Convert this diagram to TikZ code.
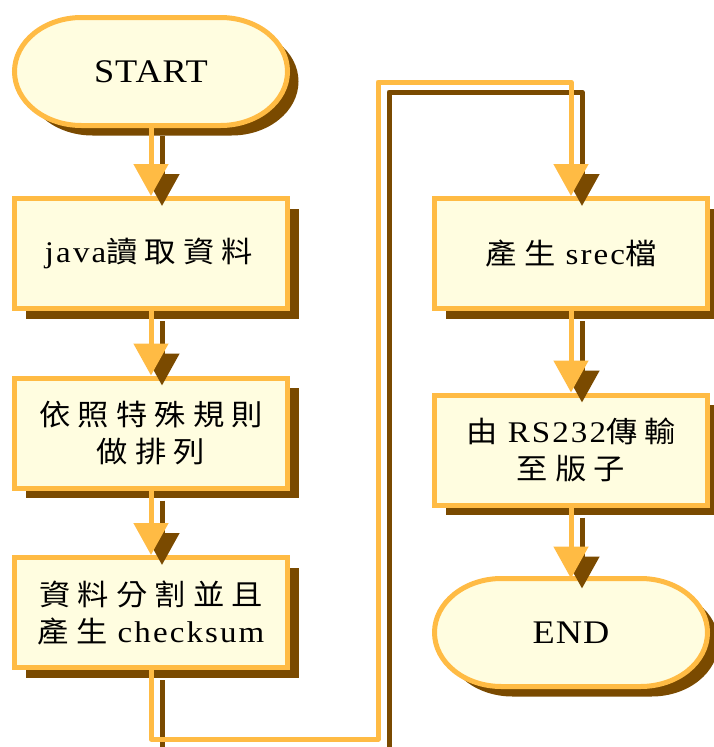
\documentclass[tikz,border=0pt]{standalone}
\usepackage{fontspec}
\setmainfont{Liberation Serif}[FakeStretch=1.1,LetterSpace=7]
\newfontfamily\cjk{Noto Sans CJK TC}[FakeStretch=1.08,LetterSpace=0.5]
\newfontfamily\termfont{Liberation Serif}[FakeStretch=1.1,LetterSpace=3]
\usetikzlibrary{arrows.meta,shadows}
\newcommand\zh[1]{{\cjk\fontsize{29}{37}\selectfont #1}}
\definecolor{borderc}{HTML}{FFBB44}
\definecolor{fillc}{HTML}{FFFDE0}
\definecolor{shadowc}{HTML}{7A4A00}
\pgfdeclarelayer{bg}
\pgfsetlayers{bg,main}
\tikzset{
  shadowed/.style={drop shadow={shadow xshift=11pt,shadow yshift=-10pt,fill=shadowc,opacity=1}},
  procbox/.style={shadowed,draw=borderc,fill=fillc,line width=5pt,minimum width=273pt,minimum height=110pt,inner sep=0pt,align=center,font=\fontsize{30}{37}\selectfont},
  termbox/.style={minimum width=273pt,minimum height=108pt,inner sep=0pt,outer sep=0pt,align=center,font=\termfont\fontsize{33}{36}\selectfont},
  termshape/.style={draw=borderc,fill=fillc,line width=5pt},
  termshadow/.style={fill=shadowc},
  flow/.style={draw=borderc,line width=5pt,line join=round,-{Triangle[width=34pt,length=32pt]}},
  flowshadow/.style={draw=shadowc,line width=5pt,line join=round,-{Triangle[width=34pt,length=32pt]}}
}
% #1 node name, #2 style, #3 x shift, #4 y shift
\newcommand\stadium[4]{%
  \path[#2] ([shift={(67pt+#3,#4)}]#1.north west) -- ([shift={(-67pt+#3,#4)}]#1.north east)
    arc[start angle=90,end angle=-90,x radius=67pt,y radius=54pt]
    -- ([shift={(67pt+#3,#4)}]#1.south west)
    arc[start angle=270,end angle=90,x radius=67pt,y radius=54pt] -- cycle;}
\begin{document}
\begin{tikzpicture}[x=1pt,y=-1pt]
\useasboundingbox (0,0) rectangle (714,747);
\node[termbox] (start) at (151,71.5) {START};
\node[procbox] (b1) at (151,253.5) {java\zh{讀 取 資 料}\hspace{4pt}};
\node[procbox] (b2) at (151,433) {\zh{依 照 特 殊 規 則}\hspace{4pt}\\\zh{做 排 列}\hspace{4pt}};
\node[procbox] (b3) at (151,612.5) {\zh{資 料 分 割 並 且}\hspace{4pt}\\\zh{產 生} checksum\hspace{4pt}};
\node[procbox] (b4) at (571,253.5) {\zh{產 生} srec\zh{檔}};
\node[procbox] (b5) at (571,450) {\zh{由} RS232\zh{傳 輸}\\\zh{至 版 子}};
\node[termbox] (end) at (571,632.5) {END};
\begin{pgfonlayer}{bg}
\stadium{start}{termshadow}{11pt}{-10pt}
\stadium{start}{termshape}{0pt}{0pt}
\stadium{end}{termshadow}{11pt}{-10pt}
\stadium{end}{termshape}{0pt}{0pt}
\end{pgfonlayer}
\coordinate (c1) at (378,739);
\coordinate (c2) at (378,82);
% shadows of connectors
\draw[flowshadow] ([shift={(11,10)}]start.south) -- ([shift={(11,10)}]b1.north);
\draw[flowshadow] ([shift={(11,10)}]b1.south) -- ([shift={(11,10)}]b2.north);
\draw[flowshadow] ([shift={(11,10)}]b2.south) -- ([shift={(11,10)}]b3.north);
\draw[flowshadow] ([shift={(11,10)}]b4.south) -- ([shift={(11,10)}]b5.north);
\draw[flowshadow] ([shift={(11,10)}]b5.south) -- ([shift={(11,10)}]end.north);
\draw[flowshadow] ([shift={(11,10)}]b3.south) |- ([shift={(11,10)}]c1) -- ([shift={(11,10)}]c2) -| ([shift={(11,10)}]b4.north);
% connectors
\draw[flow] (start.south) -- (b1.north);
\draw[flow] (b1.south) -- (b2.north);
\draw[flow] (b2.south) -- (b3.north);
\draw[flow] (b4.south) -- (b5.north);
\draw[flow] (b5.south) -- (end.north);
\draw[flow] (b3.south) |- (c1) -- (c2) -| (b4.north);
\end{tikzpicture}
\end{document}
